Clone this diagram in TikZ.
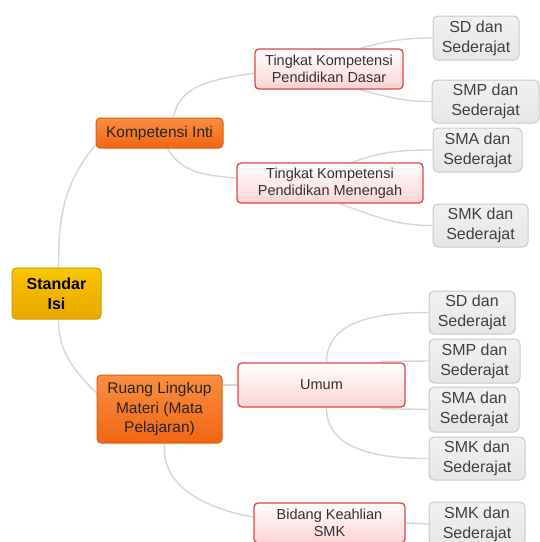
\documentclass[tikz,border=0pt]{standalone}
\usepackage{fontspec}
\setmainfont{Liberation Sans}
\usepackage{xcolor}
\usepackage{tikz}
\usetikzlibrary{positioning, backgrounds}

\definecolor{goldtop}{HTML}{F8C600}
\definecolor{goldbot}{HTML}{EAA700}
\definecolor{goldline}{HTML}{D39A00}
\definecolor{orangetop}{HTML}{FA8E40}
\definecolor{orangebot}{HTML}{F06614}
\definecolor{orangeline}{HTML}{DD5E10}
\definecolor{pinkbot}{HTML}{FDD3D3}
\definecolor{redline}{HTML}{E04444}
\definecolor{leaftop}{HTML}{F1F1F1}
\definecolor{leafbot}{HTML}{E6E6E6}
\definecolor{leafline}{HTML}{C9C9C9}
\definecolor{linkgray}{HTML}{D6D6D6}

\begin{document}
\begin{tikzpicture}[
    x=1pt, y=1pt,
    root_node/.style={
        rectangle,
        draw=goldline,
        top color=goldtop,
        bottom color=goldbot,
        line width=1pt,
        rounded corners=4pt,
        inner sep=0pt,
        align=center,
        text=black,
        font=\fontsize{16}{20}\selectfont\bfseries
    },
    main_node/.style={
        rectangle,
        draw=orangeline,
        top color=orangetop,
        bottom color=orangebot,
        line width=1pt,
        rounded corners=4pt,
        inner sep=0pt,
        align=center,
        text=black!85,
        font=\fontsize{15.5}{19.5}\selectfont
    },
    sub_node/.style={
        rectangle,
        draw=redline,
        top color=white,
        bottom color=pinkbot,
        line width=1.3pt,
        rounded corners=4pt,
        inner sep=0pt,
        align=center,
        text=black!80,
        font=\fontsize{14.5}{17}\selectfont
    },
    leaf_node/.style={
        rectangle,
        draw=leafline,
        top color=leaftop,
        bottom color=leafbot,
        line width=1pt,
        rounded corners=5pt,
        inner sep=0pt,
        align=center,
        text=black!75,
        font=\fontsize{16}{20}\selectfont
    },
    link/.style={draw=linkgray, line width=1.4pt}
]

    \useasboundingbox (0,0) rectangle (540,-542);

    % Nodes at pixel positions of the map
    \node[root_node, minimum width=89pt, minimum height=51pt] (isi) at (56.5,-293.5) {Standar\\Isi};

    \node[main_node, minimum width=127pt, minimum height=30pt] (ki) at (159.5,-133) {Kompetensi Inti};
    \node[main_node, minimum width=125pt, minimum height=68pt] (rl) at (159.5,-409) {Ruang Lingkup\\Materi (Mata\\Pelajaran)};

    \node[sub_node, minimum width=148pt, minimum height=40pt] (tkd) at (329,-69) {Tingkat Kompetensi\\Pendidikan Dasar};
    \node[sub_node, minimum width=186pt, minimum height=40pt] (tkm) at (330,-183) {Tingkat Kompetensi\\Pendidikan Menengah};
    \node[sub_node, minimum width=167pt, minimum height=44pt] (umum) at (321.5,-385) {Umum};
    \node[sub_node, minimum width=151pt, minimum height=40pt] (bks) at (329.5,-523) {Bidang Keahlian\\SMK};

    \node[leaf_node, minimum width=86pt, minimum height=44pt] (sd1) at (476,-38) {SD dan\\Sederajat};
    \node[leaf_node, minimum width=107pt, minimum height=43pt] (smp1) at (485.5,-101.5) {SMP dan\\Sederajat};
    \node[leaf_node, minimum width=89pt, minimum height=44pt] (sma1) at (477.5,-150) {SMA dan\\Sederajat};
    \node[leaf_node, minimum width=95pt, minimum height=43pt] (smk1) at (480.5,-225.5) {SMK dan\\Sederajat};

    \node[leaf_node, minimum width=86pt, minimum height=43pt] (sd2) at (472,-312.5) {SD dan\\Sederajat};
    \node[leaf_node, minimum width=91pt, minimum height=44pt] (smp2) at (474.5,-361) {SMP dan\\Sederajat};
    \node[leaf_node, minimum width=90pt, minimum height=45pt] (sma2) at (474,-409.5) {SMA dan\\Sederajat};
    \node[leaf_node, minimum width=96pt, minimum height=43pt] (smk2) at (477,-458.5) {SMK dan\\Sederajat};
    \node[leaf_node, minimum width=96pt, minimum height=44pt] (smk3) at (477,-524) {SMK dan\\Sederajat};

    % Connectors (behind the nodes)
    \begin{scope}[on background layer]
        \draw[link] ([xshift=2pt]isi.north) to[out=90, in=230] ([yshift=-12pt]ki.west);
        \draw[link] ([xshift=2pt]isi.south) to[out=-90, in=135] ([yshift=16pt]rl.west);

        \draw[link] ([xshift=14pt]ki.north) to[out=80, in=190] ([yshift=-4pt]tkd.west);
        \draw[link] ([xshift=8pt]ki.south) to[out=-60, in=175] ([yshift=5pt]tkm.west);

        \draw[link] ([xshift=31pt]tkd.north) to[out=15, in=180] (sd1.west);
        \draw[link] ([xshift=31pt]tkd.south) to[out=-15, in=180] (smp1.west);
        \draw[link] ([xshift=22pt]tkm.north) to[out=20, in=180] (sma1.west);
        \draw[link] ([xshift=10pt]tkm.south) to[out=-20, in=180] (smk1.west);

        \draw[link] ([xshift=5pt]umum.north) to[out=90, in=180] (sd2.west);
        \draw[link] ([xshift=-25pt,yshift=1pt]umum.north east) -- (smp2.west);
        \draw[link] ([xshift=-25pt,yshift=-1pt]umum.south east) -- (sma2.west);
        \draw[link] ([xshift=5pt]umum.south) to[out=-90, in=180] (smk2.west);

        \draw[link] (rl.east |- umum.west) -- (umum.west);
        \draw[link] ([xshift=5pt]rl.south) to[out=-95, in=170] ([yshift=6pt]bks.west);
        \draw[link] (bks.east) -- (smk3.west);
    \end{scope}

\end{tikzpicture}
\end{document}
